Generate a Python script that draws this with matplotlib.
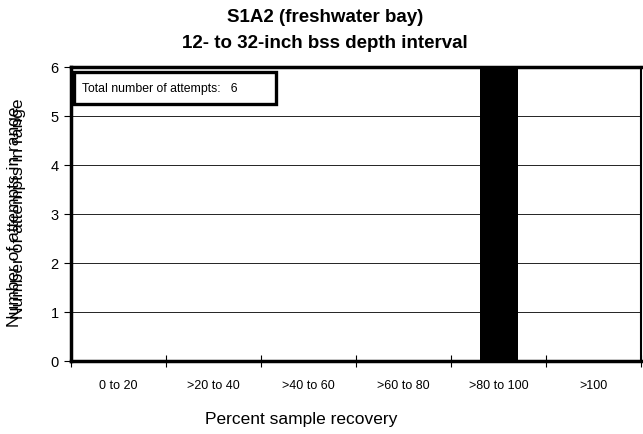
import matplotlib
matplotlib.use("Agg")
import matplotlib.pyplot as plt
from matplotlib.patches import Rectangle

plt.rcParams['font.family'] = ['Liberation Sans', 'DejaVu Sans']

categories = ["0 to 20", ">20 to 40", ">40 to 60", ">60 to 80", ">80 to 100", ">100"]
attempts = [0, 0, 0, 0, 6, 0]
total_attempts = 6

W, H = 643, 435
fig = plt.figure(figsize=(W / 100, H / 100), dpi=100)
ax = fig.add_axes([71 / W, 1 - 362 / H, 570 / W, 294 / H])

x = list(range(len(categories)))
ax.bar(x, attempts, width=0.4, color='black', zorder=3)

ax.set_xlim(-0.5, len(categories) - 0.5)
ax.set_ylim(0, 6)
ax.set_yticks(range(0, 7))
ax.yaxis.grid(True, color='black', linewidth=0.6, zorder=0)

# category labels centred, ticks at the boundaries
ax.set_xticks(x)
ax.set_xticklabels(categories, fontsize=9)
ax.tick_params(axis='x', length=0, pad=13)
ax.set_xticks([i - 0.5 for i in range(len(categories) + 1)], minor=True)
ax.tick_params(axis='x', which='minor', direction='inout', length=8, width=0.8)
ax.tick_params(axis='y', direction='out', length=5, width=0.8, labelsize=10.5, pad=4)

for side in ['left', 'bottom', 'top']:
    ax.spines[side].set_linewidth(2.5)
ax.spines['right'].set_linewidth(1.5)

fig.text(301 / W, 1 - 420 / H, "Percent sample recovery", fontsize=12.5,
         ha='center', va='center')

# the y label shows up twice, slightly offset
fig.text(15 / W, 1 - 217 / H, "Number of attempts in range", rotation=90,
         fontsize=12.5, ha='center', va='center')
fig.text(19 / W, 1 - 209 / H, "Number of attempts in range", rotation=90,
         fontsize=12.5, ha='center', va='center')

fig.text(325 / W, 1 - 18 / H, "S1A2 (freshwater bay)", fontsize=13.5, fontweight='bold',
         ha='center', va='center')
fig.text(325 / W, 1 - 43 / H, "12- to 32-inch bss depth interval", fontsize=13.5,
         fontweight='bold', ha='center', va='center')

# annotation box
bx0, bx1, by0, by1 = 74, 276, 73, 105
ax.add_patch(Rectangle(((bx0 - 71) / 570, (362 - by1) / 294), (bx1 - bx0) / 570,
                       (by1 - by0) / 294, transform=ax.transAxes, facecolor='white',
                       edgecolor='black', linewidth=2.4, zorder=5))
ax.text((82 - 71) / 570, (362 - 89) / 294, "Total number of attempts:   %d" % total_attempts,
        transform=ax.transAxes, fontsize=8.8, ha='left', va='center', zorder=6)

fig.savefig("out.png", dpi=100)
